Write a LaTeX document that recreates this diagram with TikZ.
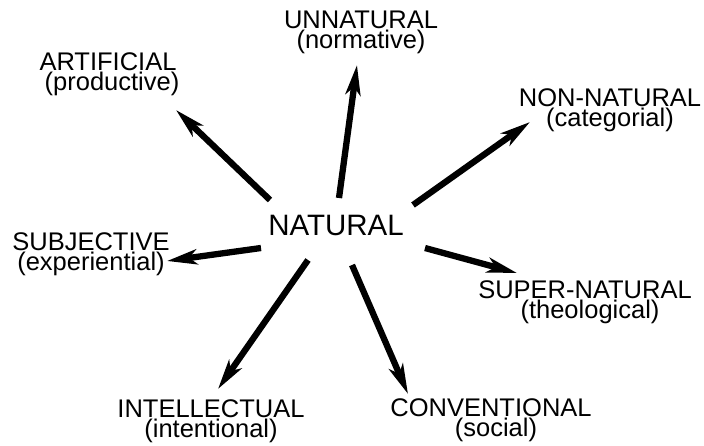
\documentclass[tikz,border=0pt]{standalone}
\usepackage{fontspec}
\setmainfont{Liberation Sans}
\usetikzlibrary{arrows.meta}
\begin{document}
\begin{tikzpicture}[x=1pt,y=-1pt,
  lab/.style={align=center,inner sep=0pt,font=\fontsize{25.5}{20}\selectfont},
  arr/.style={line width=6.3pt,-{Stealth[length=30pt,width=15pt,inset=8pt]}}]
\useasboundingbox (0,0) rectangle (704,445);
\node[inner sep=0pt,font=\fontsize{29.5}{30}\selectfont] (nat) at (336,225) {NATURAL};
\node[lab] (unn) at (361,32) {UNNATURAL\\(normative)};
\node[lab] (art) at (108,74) {ARTIFICIAL\\\hspace*{8pt}(productive)};
\node[lab] (non) at (610,110) {NON-NATURAL\\(categorial)};
\node[lab] (sub) at (91,254) {SUBJECTIVE\\(experiential)};
\node[lab] (sup) at (585,302) {SUPER-NATURAL\\\hspace*{10pt}(theological)};
\node[lab] (int) at (211,421) {INTELLECTUAL\\(intentional)};
\node[lab] (con) at (491,420) {CONVENTIONAL\\\hspace*{10pt}(social)};
% arrow ends
\coordinate (s1) at (339,198); \coordinate (e1) at (357,65);
\coordinate (s2) at (270,200); \coordinate (e2) at (176,110);
\coordinate (s3) at (413,205); \coordinate (e3) at (530,122);
\coordinate (s4) at (261,248); \coordinate (e4) at (167,261);
\coordinate (s5) at (425,248); \coordinate (e5) at (517,273);
\coordinate (s6) at (308,260); \coordinate (e6) at (218,389);
\coordinate (s7) at (352,265); \coordinate (e7) at (408,394);
\draw[arr] (s1) -- (e1);
\draw[arr] (s2) -- (e2);
\draw[arr] (s3) -- (e3);
\draw[arr] (s4) -- (e4);
\draw[arr] (s5) -- (e5);
\draw[arr] (s6) -- (e6);
\draw[arr] (s7) -- (e7);
\end{tikzpicture}
\end{document}
